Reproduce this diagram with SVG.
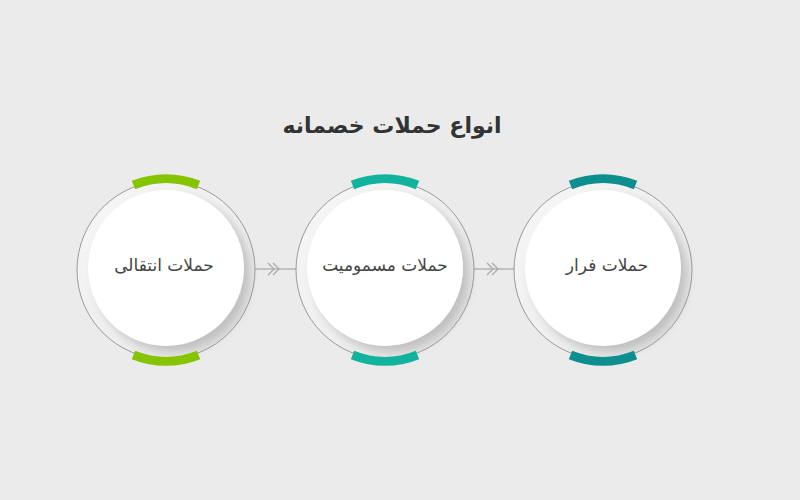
<svg xmlns="http://www.w3.org/2000/svg" width="800" height="500" viewBox="0 0 800 500">
<defs>
<linearGradient id="ring" x1="0" y1="0" x2="1" y2="1">
<stop offset="0" stop-color="#f7f7f7"/>
<stop offset="0.55" stop-color="#efefef"/>
<stop offset="1" stop-color="#dedede"/>
</linearGradient>
<filter id="sh" x="-30%" y="-30%" width="160%" height="160%">
<feGaussianBlur stdDeviation="5"/>
</filter>
<style>
.outer{fill:url(#ring);stroke:#9a9a9a;stroke-width:1}
.shadow{fill:#9a9a9a;opacity:0.5;filter:url(#sh)}
.inner{fill:#ffffff}
.lbl{font-family:"DejaVu Sans",sans-serif;font-size:17px;fill:#444;text-anchor:middle}
.title{font-family:"DejaVu Sans",sans-serif;font-size:22px;font-weight:bold;fill:#333;text-anchor:middle}
.conn{stroke:#b5b5b5;stroke-width:1.5;fill:none}
.chev{stroke:#aaaaaa;stroke-width:1.3;fill:none}
.arc{fill:none;stroke-width:9}
</style>
</defs>
<rect width="800" height="500" fill="#ebebeb"/>
<text class="title" x="392" y="133" direction="rtl">انواع حملات خصمانه</text>

<g id="connectors">
<line class="conn" x1="255" y1="269" x2="297" y2="269"/>
<path class="chev" d="M268 263 L274 269 L268 275 M273 263 L279 269 L273 275"/>
<line class="conn" x1="474" y1="269" x2="515" y2="269"/>
<path class="chev" d="M487 263 L493 269 L487 275 M492 263 L498 269 L492 275"/>
</g>

<g id="node1">
<circle class="outer" cx="166" cy="270" r="89"/>
<circle class="shadow" cx="172" cy="274" r="78"/>
<circle class="inner" cx="166" cy="268" r="78"/>
<path class="arc" stroke="#86c300" d="M133.5 185 A87 87 0 0 1 198.5 185"/>
<path class="arc" stroke="#86c300" d="M133.5 355 A87 87 0 0 0 198.5 355"/>
<text class="lbl" x="164" y="271" direction="rtl">حملات انتقالی</text>
</g>

<g id="node2">
<circle class="outer" cx="385" cy="270" r="89"/>
<circle class="shadow" cx="391" cy="274" r="78"/>
<circle class="inner" cx="385" cy="268" r="78"/>
<path class="arc" stroke="#12b39e" d="M352.5 185 A87 87 0 0 1 417.5 185"/>
<path class="arc" stroke="#12b39e" d="M352.5 355 A87 87 0 0 0 417.5 355"/>
<text class="lbl" x="385" y="271" direction="rtl">حملات مسمومیت</text>
</g>

<g id="node3">
<circle class="outer" cx="603" cy="270" r="89"/>
<circle class="shadow" cx="609" cy="274" r="78"/>
<circle class="inner" cx="603" cy="268" r="78"/>
<path class="arc" stroke="#0e8f8f" d="M570.5 185 A87 87 0 0 1 635.5 185"/>
<path class="arc" stroke="#0e8f8f" d="M570.5 355 A87 87 0 0 0 635.5 355"/>
<text class="lbl" x="607" y="271" direction="rtl">حملات فرار</text>
</g>
</svg>
